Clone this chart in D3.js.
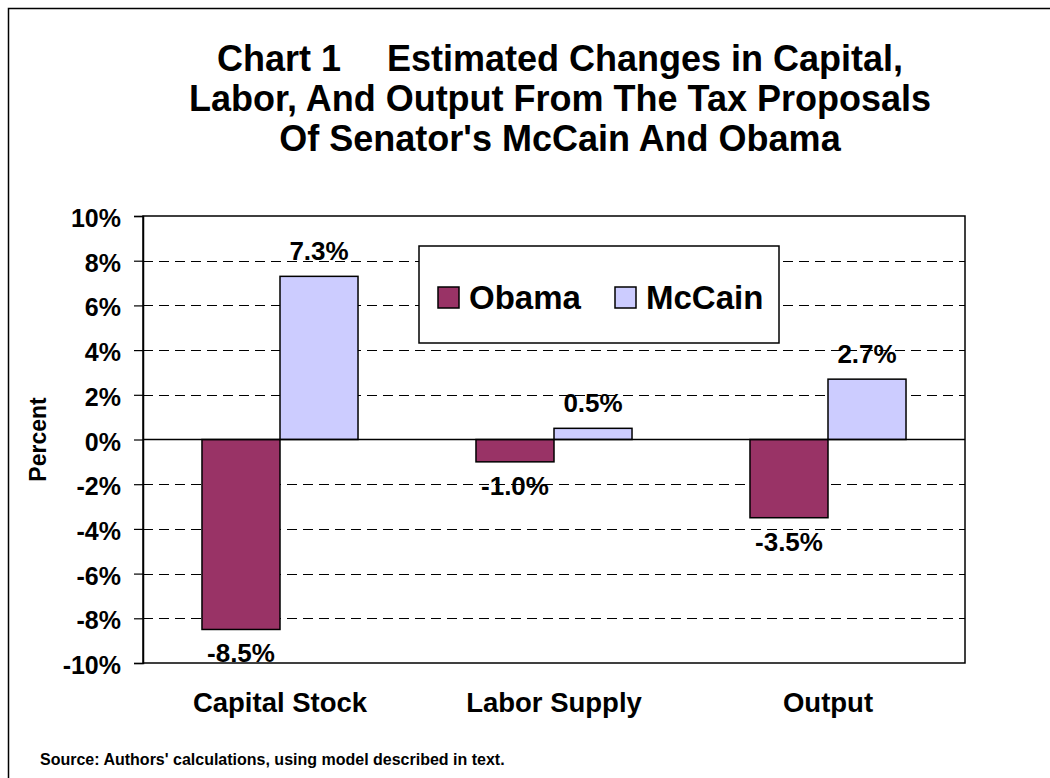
<!DOCTYPE html>
<html>
<head>
<meta charset="utf-8">
<script src="https://cdn.jsdelivr.net/npm/d3@7/dist/d3.min.js"></script>
<style>
    body { margin: 0; background: #fff; }
    svg text { font-family: "Liberation Sans", Arial, sans-serif; font-weight: bold; fill: #000; }
</style>
</head>
<body>
<div id="chart"></div>
<script>
// data
var categories = ["Capital Stock", "Labor Supply", "Output"];
var seriesNames = ["Obama", "McCain"];
var obamaValues = [-8.5, -1.0, -3.5];
var mccainValues = [7.3, 0.5, 2.7];
var yTicks = [-10, -8, -6, -4, -2, 0, 2, 4, 6, 8, 10];
var titleLines = ["Estimated Changes in Capital,", "Labor, And Output From The Tax Proposals", "Of Senator's McCain And Obama"];

var colors = {Obama: "#993366", McCain: "#ccccff"};

BarVis = function(_parentElement)
{
    this.parentElement = _parentElement;
    this.margin = {top: 216, right: 85, bottom: 115, left: 143};
    this.width = 1050 - this.margin.left - this.margin.right;
    this.height = 778 - this.margin.top - this.margin.bottom;
    this.initVis();
}

BarVis.prototype.initVis = function()
{
    var that = this;

    this.svg = this.parentElement.append("svg")
        .attr("width", 1050)
        .attr("height", 778);

    // outer frame, runs off the right and bottom edges
    this.svg.append("rect")
        .attr("x", 8.5).attr("y", 8.5)
        .attr("width", 1100).attr("height", 800)
        .attr("fill", "none")
        .attr("stroke", "#000")
        .attr("stroke-width", 1.5);

    // title
    var t = this.svg.append("text")
        .attr("x", 560)
        .attr("y", 71)
        .attr("text-anchor", "middle")
        .style("font-size", "36px");
    t.append("tspan").text("Chart 1");
    t.append("tspan").attr("dx", 46).text(titleLines[0]);
    this.svg.selectAll(".titleLine")
        .data(titleLines.slice(1))
        .enter()
        .append("text")
        .attr("class", "titleLine")
        .attr("x", 560)
        .attr("y", function(d, i) { return 111 + i * 40; })
        .attr("text-anchor", "middle")
        .style("font-size", "36px")
        .text(function(d) { return d; });

    var g = this.svg.append("g")
        .attr("transform", "translate(" + this.margin.left + "," + this.margin.top + ")");

    this.y = d3.scaleLinear().domain([-10, 10]).range([this.height, 0]);
    this.x0 = d3.scaleBand().domain(categories).range([0, this.width]);
    this.x1 = d3.scaleBand().domain(seriesNames).range([0, this.x0.bandwidth()]).paddingOuter(0.756);

    // dashed grid
    g.selectAll(".grid")
        .data(yTicks.filter(function(d) { return d !== 0 && Math.abs(d) !== 10; }))
        .enter()
        .append("line")
        .attr("class", "grid")
        .attr("x1", 0).attr("x2", this.width)
        .attr("y1", function(d) { return Math.round(that.y(d)) + 0.5; })
        .attr("y2", function(d) { return Math.round(that.y(d)) + 0.5; })
        .attr("stroke", "#000")
        .attr("stroke-width", 1)
        .attr("stroke-dasharray", "10,6");

    // plot frame
    g.append("rect")
        .attr("width", this.width)
        .attr("height", this.height)
        .attr("fill", "none")
        .attr("stroke", "#000")
        .attr("stroke-width", 1.5);

    // y axis
    var yAxis = d3.axisLeft(this.y)
        .tickValues(yTicks)
        .tickSize(9)
        .tickPadding(13)
        .tickFormat(function(d) { return d + "%"; });
    var ya = g.append("g").call(yAxis);
    ya.select(".domain").attr("stroke", "#000").attr("stroke-width", 1.5);
    ya.selectAll(".tick line").attr("stroke", "#000").attr("stroke-width", 1.2);
    ya.selectAll(".tick text")
        .style("font-size", "25px")
        .style("font-family", "'Liberation Sans', Arial, sans-serif")
        .style("font-weight", "bold")
        .attr("dy", "0.42em");

    // bars
    var rows = categories.map(function(c, i) {
        return {cat: c, values: [{name: "Obama", v: obamaValues[i]}, {name: "McCain", v: mccainValues[i]}]};
    });
    var groups = g.selectAll(".cat")
        .data(rows)
        .enter()
        .append("g")
        .attr("class", "cat")
        .attr("transform", function(d) { return "translate(" + that.x0(d.cat) + ",0)"; });

    groups.selectAll("rect")
        .data(function(d) { return d.values; })
        .enter()
        .append("rect")
        .attr("x", function(d) { return that.x1(d.name); })
        .attr("width", this.x1.bandwidth())
        .attr("y", function(d) { return that.y(Math.max(0, d.v)); })
        .attr("height", function(d) { return Math.abs(that.y(d.v) - that.y(0)); })
        .attr("fill", function(d) { return colors[d.name]; })
        .attr("stroke", "#000")
        .attr("stroke-width", 1.5);

    // zero line
    g.append("line")
        .attr("x1", 0).attr("x2", this.width)
        .attr("y1", this.y(0)).attr("y2", this.y(0))
        .attr("stroke", "#000")
        .attr("stroke-width", 1.5);

    // value labels
    groups.selectAll(".val")
        .data(function(d) { return d.values; })
        .enter()
        .append("text")
        .attr("class", "val")
        .attr("x", function(d) { return that.x1(d.name) + that.x1.bandwidth() / 2; })
        .attr("y", function(d) { return d.v >= 0 ? that.y(d.v) - 16 : that.y(d.v) + 33; })
        .attr("text-anchor", "middle")
        .style("font-size", "26px")
        .text(function(d) { return d.v.toFixed(1) + "%"; });

    // category labels
    g.selectAll(".catLabel")
        .data(categories)
        .enter()
        .append("text")
        .attr("class", "catLabel")
        .attr("x", function(d) { return that.x0(d) + that.x0.bandwidth() / 2; })
        .attr("y", this.height + 49)
        .attr("text-anchor", "middle")
        .style("font-size", "27.5px")
        .text(function(d) { return d; });

    // axis title
    this.svg.append("text")
        .attr("transform", "translate(46," + (this.margin.top + this.y(0)) + ") rotate(-90)")
        .attr("text-anchor", "middle")
        .style("font-size", "23px")
        .text("Percent");

    // legend
    var lg = this.svg.append("g").attr("transform", "translate(419,246)");
    lg.append("rect")
        .attr("width", 360).attr("height", 97)
        .attr("fill", "#fff")
        .attr("stroke", "#000")
        .attr("stroke-width", 1.5);
    var items = lg.selectAll(".item")
        .data(seriesNames)
        .enter()
        .append("g")
        .attr("class", "item")
        .attr("transform", function(d, i) { return "translate(" + (19 + i * 177) + ",41)"; });
    items.append("rect")
        .attr("width", 21).attr("height", 21)
        .attr("fill", function(d) { return colors[d]; })
        .attr("stroke", "#000")
        .attr("stroke-width", 1.5);
    items.append("text")
        .attr("x", 31)
        .attr("y", 22)
        .style("font-size", "33px")
        .text(function(d) { return d; });

    // source note
    this.svg.append("text")
        .attr("x", 40)
        .attr("y", 765)
        .style("font-size", "16px")
        .text("Source: Authors' calculations, using model described in text.");
}

new BarVis(d3.select("#chart"));
</script>
</body>
</html>
